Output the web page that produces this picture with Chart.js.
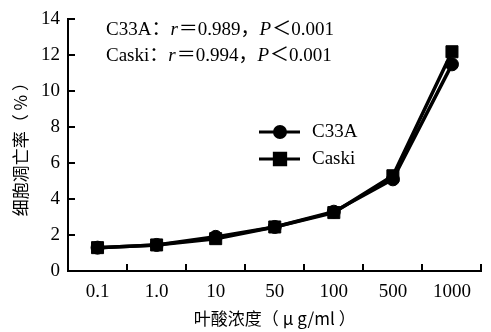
<!DOCTYPE html>
<html>
<head>
<meta charset="utf-8">
<script src="https://cdn.jsdelivr.net/npm/chart.js@4/dist/chart.umd.min.js"></script>
<style>
  html, body { margin: 0; padding: 0; background: #fff; }
  #wrap { width: 491px; height: 332px; }
</style>
</head>
<body>
<div id="wrap"><canvas id="c" width="491" height="332"></canvas></div>
<script>
// Folic acid concentration (µg/ml) categories
const concentrations = ['0.1', '1.0', '10', '50', '100', '500', '1000'];
// Apoptosis rate (%) per cell line
const c33aRates  = [1.3, 1.45, 1.9, 2.45, 3.3, 5.1, 11.5];
const caskiRates = [1.3, 1.45, 1.8, 2.45, 3.25, 5.3, 12.2];
const yTicks = [0, 2, 4, 6, 8, 10, 12, 14];
const xTitle = '叶酸浓度（ μ g/ml ）';
const yTitle = '细胞凋亡率（ % ）';
const statLines = [
  ['C33A：', 'r', '＝0.989，', 'P', '＜0.001'],
  ['Caski：', 'r', '＝0.994，', 'P', '＜0.001']
];

const SERIF = '"Liberation Serif", "Times New Roman", "Noto Sans CJK SC", serif';
const CJK = '"Noto Sans CJK SC", sans-serif';

// Inward tick marks on both axes
const innerTicks = {
  id: 'innerTicks',
  afterDraw(chart) {
    const ctx = chart.ctx;
    const xs = chart.scales.x, ys = chart.scales.y;
    ctx.save();
    ctx.strokeStyle = '#000';
    ctx.lineWidth = 2;
    ys.ticks.forEach(t => {
      const py = Math.round(ys.getPixelForValue(t.value));
      ctx.beginPath();
      ctx.moveTo(ys.right, py);
      ctx.lineTo(ys.right + 7, py);
      ctx.stroke();
    });
    const n = concentrations.length;
    const step = (xs.right - xs.left) / n;
    for (let i = 1; i <= n; i++) {
      const px = Math.round(xs.left + i * step) - (i === n ? 1 : 0);
      ctx.beginPath();
      ctx.moveTo(px, xs.top);
      ctx.lineTo(px, xs.top - 7);
      ctx.stroke();
    }
    ctx.restore();
  }
};

// Correlation statistics text and line+marker legend
const annotations = {
  id: 'annotations',
  afterDraw(chart) {
    const ctx = chart.ctx;
    ctx.save();
    ctx.fillStyle = '#000';
    ctx.textBaseline = 'alphabetic';
    const baselines = [35, 61];
    statLines.forEach((parts, li) => {
      let x = 106;
      parts.forEach((p, pi) => {
        const italic = (pi === 1 || pi === 3);
        ctx.font = (italic ? 'italic ' : '') + '19px ' + SERIF;
        ctx.fillText(p, x, baselines[li]);
        x += ctx.measureText(p).width + (italic ? 1 : 0);
      });
    });

    // legend
    const rows = [132, 159];
    chart.data.datasets.forEach((ds, i) => {
      const y = rows[i];
      ctx.strokeStyle = '#000';
      ctx.lineWidth = 3;
      ctx.beginPath();
      ctx.moveTo(259, y);
      ctx.lineTo(300, y);
      ctx.stroke();
      Chart.helpers.drawPoint(ctx, {
        pointStyle: ds.pointStyle,
        radius: ds.pointStyle === 'rect' ? 8 : 5.5,
        borderWidth: 1
      }, 280, y);
      ctx.fill();
      ctx.font = '19px ' + SERIF;
      ctx.textBaseline = 'middle';
      ctx.fillText(ds.label, 312, y);
    });
    ctx.restore();
  }
};

new Chart(document.getElementById('c'), {
  type: 'line',
  data: {
    labels: concentrations,
    datasets: [
      {
        label: 'C33A',
        data: c33aRates,
        borderColor: '#000',
        backgroundColor: '#000',
        borderWidth: 3.5,
        pointStyle: 'circle',
        pointRadius: 6.5,
        pointBorderWidth: 1,
        tension: 0
      },
      {
        label: 'Caski',
        data: caskiRates,
        borderColor: '#000',
        backgroundColor: '#000',
        borderWidth: 3.5,
        pointStyle: 'rect',
        pointRadius: 8.5,
        pointBorderWidth: 1,
        tension: 0
      }
    ]
  },
  options: {
    responsive: false,
    animation: false,
    devicePixelRatio: 1,
    layout: { padding: { top: 17, right: 1, left: 0, bottom: 0 } },
    plugins: {
      legend: { display: false },
      tooltip: { enabled: false }
    },
    scales: {
      x: {
        type: 'category',
        offset: true,
        grid: { display: false, drawTicks: false },
        border: { display: true, color: '#000', width: 2 },
        ticks: {
          color: '#000',
          font: { family: SERIF, size: 19 },
          padding: 10,
          maxRotation: 0
        },
        title: {
          display: true,
          text: xTitle,
          color: '#000',
          font: { family: CJK, size: 17 },
          padding: { top: 2, bottom: 3 }
        },
        afterFit(s) { s.height = 61; }
      },
      y: {
        min: 0,
        max: 14,
        afterBuildTicks(s) { s.ticks = yTicks.map(v => ({ value: v })); },
        grid: { display: false, drawTicks: false },
        border: { display: true, color: '#000', width: 2 },
        ticks: {
          color: '#000',
          font: { family: SERIF, size: 19 },
          padding: 8
        },
        title: {
          display: true,
          text: yTitle,
          color: '#000',
          font: { family: CJK, size: 17 },
          padding: { top: 10, bottom: 2 }
        },
        afterFit(s) { s.width = 68; }
      }
    }
  },
  plugins: [innerTicks, annotations]
});
</script>
</body>
</html>
